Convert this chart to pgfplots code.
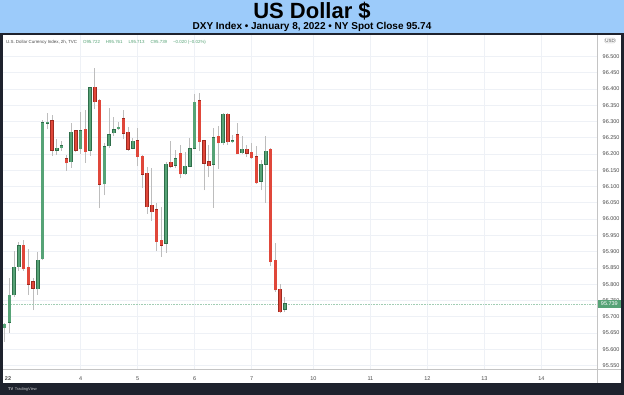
\documentclass[border=0pt]{standalone}
\usepackage{fontspec}
\setmainfont{Liberation Sans}
\usepackage{pgfplots}
\usepackage{pgfplotstable}
\pgfplotsset{compat=1.18}
\definecolor{hdrblue}{HTML}{9CCBFA}
\definecolor{framec}{HTML}{1E222D}
\definecolor{gfill}{HTML}{56A376}
\definecolor{gedge}{HTML}{2F6E4A}
\definecolor{rfill}{HTML}{E0473A}
\definecolor{redge}{HTML}{9E2A20}
\definecolor{wick}{HTML}{BDBDBD}
\definecolor{gridc}{HTML}{EEF1F6}
\definecolor{axc}{HTML}{C4C4C4}
\definecolor{lbl}{HTML}{4A4A4A}

% 2h candles: index, open, high, low, close
\pgfplotstableread{
i o h l c
1 95.666 95.680 95.623 95.677
2 95.682 95.818 95.649 95.766
3 95.767 95.903 95.761 95.852
4 95.854 95.931 95.841 95.918
8 95.786 95.900 95.767 95.874
9 95.878 96.305 95.874 96.296
10 96.294 96.327 96.276 96.298
12 96.212 96.245 96.197 96.218
13 96.220 96.241 96.210 96.226
15 96.176 96.294 96.158 96.267
17 96.216 96.330 96.200 96.271
19 96.212 96.407 96.194 96.404
22 96.108 96.233 96.074 96.223
23 96.225 96.343 96.219 96.260
24 96.265 96.313 96.255 96.275
25 96.278 96.297 96.274 96.282
28 96.218 96.248 96.214 96.239
35 95.925 96.176 95.897 96.169
37 96.166 96.212 96.156 96.185
39 96.140 96.207 96.135 96.163
40 96.163 96.248 96.159 96.216
41 96.218 96.386 96.214 96.360
45 96.169 96.279 96.035 96.250
47 96.235 96.325 96.228 96.322
49 96.238 96.258 96.235 96.241
51 96.204 96.255 96.199 96.214
55 96.117 96.182 96.089 96.168
56 96.169 96.255 96.050 96.209
60 95.722 95.761 95.713 95.739
}\greens

\pgfplotstableread{
i o h l c
5 95.920 95.936 95.841 95.847
6 95.852 95.907 95.767 95.800
7 95.808 95.818 95.720 95.787
11 96.302 96.320 96.195 96.212
14 96.185 96.197 96.148 96.173
16 96.271 96.274 96.205 96.212
18 96.276 96.335 96.173 96.207
20 96.405 96.463 96.337 96.361
21 96.366 96.368 96.033 96.107
26 96.308 96.335 96.246 96.264
27 96.267 96.284 96.210 96.214
29 96.241 96.279 96.163 96.192
30 96.193 96.197 96.094 96.138
31 96.141 96.159 96.016 96.038
32 96.042 96.156 95.995 96.022
33 96.028 96.048 95.902 95.931
34 95.935 96.038 95.884 95.920
36 96.174 96.240 96.156 96.163
38 96.202 96.228 96.125 96.139
42 96.364 96.389 96.210 96.238
43 96.241 96.243 96.089 96.172
44 96.176 96.228 96.128 96.164
46 96.254 96.286 96.154 96.234
48 96.323 96.327 96.228 96.237
50 96.260 96.294 96.199 96.201
52 96.214 96.228 96.192 96.202
53 96.206 96.235 96.184 96.188
54 96.191 96.225 96.108 96.112
57 96.214 96.220 95.856 95.869
58 95.874 95.925 95.777 95.782
59 95.784 95.800 95.710 95.715
}\reds

\pgfplotsset{
  wickstyle/.style={draw=none, mark=none, forget plot,
    error bars/.cd, y dir=plus, y explicit, error mark=none,
    error bar style={draw=wick, line width=0.9pt}},
  bodystyle/.style={draw=none, mark=none, forget plot,
    error bars/.cd, y dir=plus, y explicit, error mark=none,
    error bar style={draw=#1, line width=3.6pt}},
  bodyfill/.style={draw=none, mark=none, forget plot,
    error bars/.cd, y dir=plus, y explicit, error mark=none,
    error bar style={draw=#1, line width=2.4pt}},
}

\begin{document}
\begin{tikzpicture}[x=1pt,y=1pt]
\useasboundingbox (0,0) rectangle (624,395);
\fill[hdrblue] (0,362) rectangle (624,395);
\fill[framec] (0,0) rectangle (624,362);
\fill[white] (3,12) rectangle (621,360);
\node[anchor=base, inner sep=0pt, font=\fontsize{22}{22}\selectfont\bfseries] at (312,376) {US Dollar \$};
\node[anchor=base, inner sep=0pt, font=\fontsize{10}{10}\selectfont\bfseries] at (312,365) {DXY Index • January 8, 2022 • NY Spot Close 95.74};

\begin{axis}[at={(3pt,26pt)}, anchor=south west, scale only axis,
  width=594pt, height=334pt,
  xmin=0.642, xmax=125.7, ymin=95.539, ymax=96.566,
  axis x line*=bottom, axis y line*=right,
  axis line style={draw=axc, line width=0.8pt},
  xtick={17,29,41,53,66,78,90,102,114},
  xticklabels={4,5,6,7,10,11,12,13,14},
  extra x ticks={1.7}, extra x tick labels={\bfseries 22},
  extra x tick style={grid=none},
  ytick={95.55,95.60,95.65,95.70,95.75,95.80,95.85,95.90,95.95,96.00,96.05,96.10,96.15,96.20,96.25,96.30,96.35,96.40,96.45,96.50},
  grid=major, major grid style={draw=gridc, line width=0.7pt},
  major tick length=0pt,
  tick label style={font=\fontsize{5.5}{6}\selectfont, text=lbl},
  xticklabel style={yshift=-3.9pt},
  yticklabel style={xshift=2.2pt, /pgf/number format/.cd, fixed, fixed zerofill, precision=3, 1000 sep={}, assume math mode=true},
]
\addplot[wickstyle] table[x=i, y=l, y error expr=\thisrow{h}-\thisrow{l}] {\greens};
\addplot[wickstyle] table[x=i, y=l, y error expr=\thisrow{h}-\thisrow{l}] {\reds};
\addplot[gfill!55, densely dotted, line width=0.6pt, forget plot] coordinates {(0.642,95.739) (125.7,95.739)};
\addplot[bodystyle=gedge] table[x=i, y expr={min(\thisrow{o},\thisrow{c})-0.0015}, y error expr={abs(\thisrow{c}-\thisrow{o})+0.003}] {\greens};
\addplot[bodyfill=gfill] table[x=i, y expr={min(\thisrow{o},\thisrow{c})}, y error expr={abs(\thisrow{c}-\thisrow{o})}] {\greens};
\addplot[bodystyle=redge] table[x=i, y expr={min(\thisrow{o},\thisrow{c})-0.0015}, y error expr={abs(\thisrow{c}-\thisrow{o})+0.003}] {\reds};
\addplot[bodyfill=rfill] table[x=i, y expr={min(\thisrow{o},\thisrow{c})}, y error expr={abs(\thisrow{c}-\thisrow{o})}] {\reds};
\end{axis}

% price axis separator extends through the time scale
\draw[axc, line width=0.8pt] (597,26) -- (597,12);
\draw[axc, line width=0.8pt] (597,26) -- (621,26);
% last price label
\node[anchor=west, fill=gfill, text=white, inner sep=0pt, minimum width=23.5pt, minimum height=7.5pt, font=\fontsize{5.5}{6}\selectfont] at (597.4,90.9) {95.739};
% currency label
\node[draw=axc, rounded corners=1.5pt, line width=0.4pt, inner sep=0.8pt, text=lbl, font=\fontsize{4.5}{5}\selectfont] at (610,354.5) {USD};
% legend line
\node[anchor=west, inner sep=0pt, font=\fontsize{4.4}{5}\selectfont] at (6,353) {\textcolor{lbl}{U.S. Dollar Currency Index, 2h, TVC}\hspace{6pt}\textcolor{gfill}{O95.722\hspace{6pt}H95.761\hspace{6pt}L95.713\hspace{6pt}C95.739\hspace{6pt}−0.020 (−0.02\%)}};
% footer
\node[anchor=west, inner sep=0pt, text=white!75!framec, font=\fontsize{4}{5}\selectfont] at (8,6) {\textbf{TV}\hspace{1.5pt}TradingView};
\end{tikzpicture}
\end{document}
